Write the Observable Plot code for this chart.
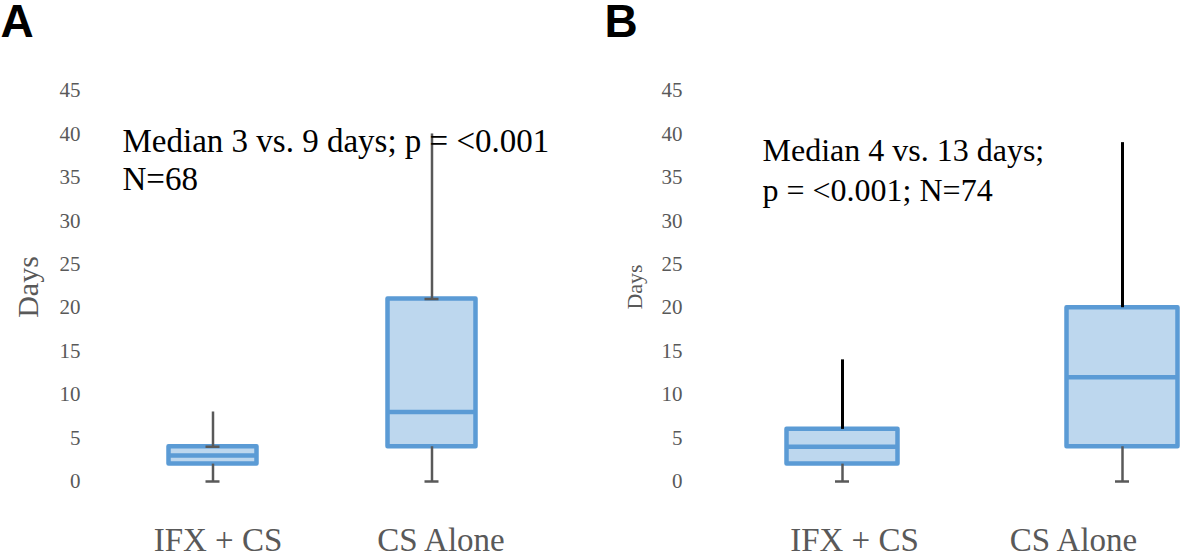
<!DOCTYPE html>
<html><head><meta charset="utf-8">
<script src="https://cdn.jsdelivr.net/npm/d3@7"></script>
<script src="https://cdn.jsdelivr.net/npm/@observablehq/plot@0.6"></script>
<style>
html,body{margin:0;padding:0;background:#fff;}
#wrap{display:flex;width:1180px;height:552px;overflow:hidden;}
#wrap svg{display:block;flex:none;}
#wrap svg g[aria-label="y-axis tick label"], #wrap svg g[aria-label="y-axis tick label"] text{font-family:'Liberation Serif','Times New Roman',serif;}
</style></head><body><div id="wrap"></div>
<script>
// ---- data ----
const categories = ["IFX + CS", "CS Alone"];
const yTicks = [0, 5, 10, 15, 20, 25, 30, 35, 40, 45];
const aMin = [0, 0], aQ1 = [2, 4], aMedian = [3, 8], aQ3 = [4, 21], aMax = [8, 40];
const bMin = [0, 0], bQ1 = [2, 4], bMedian = [4, 12], bQ3 = [6, 20], bMax = [14, 39];
const annotA = ["Median 3 vs. 9 days; p = <0.001", "N=68"];
const annotB = ["Median 4 vs. 13 days;", "p = <0.001; N=74"];
const yLabel = "Days";

const SERIF = "'Liberation Serif', 'Times New Roman', serif";
const SANS = "'Liberation Sans', Arial, sans-serif";
const GRAY = "#595959";
const BLUE = "#5B9BD5";
const FILL = "#BDD7EE";

function table(mn, q1, md, q3, mx) {
  return categories.map((c, i) => ({cat: c, min: mn[i], q1: q1[i], median: md[i], q3: q3[i], max: mx[i]}));
}

function panel(cfg) {
  const data = table(...cfg.stats);
  const marks = [
    Plot.axisY(yTicks, {tickSize: 0, tickPadding: 8, fontSize: 21, color: GRAY, fontFamily: SERIF, label: null}),
    // boxes
    Plot.barY(data, {x: "cat", y1: "q1", y2: "q3", fill: FILL, stroke: BLUE, strokeWidth: 4.5,
      strokeLinejoin: "round", insetLeft: cfg.boxInset, insetRight: cfg.boxInset}),
    Plot.tickY(data, {x: "cat", y: "median", stroke: BLUE, strokeWidth: 4.5,
      insetLeft: cfg.boxInset, insetRight: cfg.boxInset}),
    // whiskers
    Plot.ruleX(data, {x: "cat", y1: "q3", y2: "max", stroke: cfg.upperColor, strokeWidth: cfg.upperWidth}),
    Plot.ruleX(data, {x: "cat", y1: "min", y2: "q1", stroke: GRAY, strokeWidth: 2.5}),
    Plot.tickY(data, {x: "cat", y: "min", stroke: GRAY, strokeWidth: 2.5,
      insetLeft: cfg.capInset, insetRight: cfg.capInset}),
  ];
  if (cfg.capAtQ3) {
    marks.push(Plot.tickY(data, {x: "cat", y: "q3", stroke: GRAY, strokeWidth: 2.5,
      insetLeft: cfg.capInset, insetRight: cfg.capInset}));
  }
  // category labels
  categories.forEach((c, i) => {
    marks.push(Plot.text([c], {x: d => d, frameAnchor: "bottom", text: d => d, fontSize: 33,
      fill: GRAY, fontFamily: SERIF, lineAnchor: "middle", dy: 58.5, dx: cfg.labelDx[i]}));
  });
  // annotation lines
  cfg.annot.forEach((line, i) => {
    marks.push(Plot.text([line], {frameAnchor: "top-left", text: d => d, textAnchor: "start",
      lineAnchor: "middle", fontSize: cfg.annotSize, fill: "#000", fontFamily: SERIF,
      dx: cfg.annotDx, dy: cfg.annotDy + i * cfg.annotGap}));
  });
  // y label
  marks.push(Plot.text([yLabel], {frameAnchor: "left", text: d => d, rotate: -90, textAnchor: "middle",
    lineAnchor: "middle", fontSize: cfg.daysSize, fill: GRAY, fontFamily: SERIF, dx: cfg.daysDx, dy: 1}));
  // panel letter
  marks.push(Plot.text([cfg.letter], {frameAnchor: "top-left", text: d => d, textAnchor: "start",
    lineAnchor: "middle", fontSize: 46, fontWeight: "bold", fill: "#000", fontFamily: SANS,
    dx: cfg.letterDx, dy: -68.7}));

  return Plot.plot({
    width: 590, height: 552,
    marginTop: 90, marginBottom: 71, marginLeft: cfg.marginLeft, marginRight: 0,
    style: {fontFamily: SERIF, background: "#fff"},
    x: {type: "band", domain: categories, range: cfg.range, padding: 0, axis: null},
    y: {domain: [0, 45], axis: null},
    marks
  });
}

const wrap = document.getElementById("wrap");
wrap.appendChild(panel({
  stats: [aMin, aQ1, aMedian, aQ3, aMax], letter: "A", marginLeft: 88,
  range: [102.5, 540.5], boxInset: 65.5, capInset: 102.5, labelDx: [5, 9],
  upperColor: GRAY, upperWidth: 2.5, capAtQ3: true,
  annot: annotA, annotSize: 33, annotDx: 34, annotDy: 51.4, annotGap: 38,
  daysSize: 30, daysDx: -59.7, letterDx: -88
}));
wrap.appendChild(panel({
  stats: [bMin, bQ1, bMedian, bQ3, bMax], letter: "B", marginLeft: 100,
  range: [112, 672], boxInset: 84.5, capInset: 133, labelDx: [12, -49],
  upperColor: "#000", upperWidth: 3, capAtQ3: false,
  annot: annotB, annotSize: 32, annotDx: 72, annotDy: 59.8, annotGap: 40,
  daysSize: 22, daysDx: -55.4, letterDx: -86
}));
</script></body></html>
